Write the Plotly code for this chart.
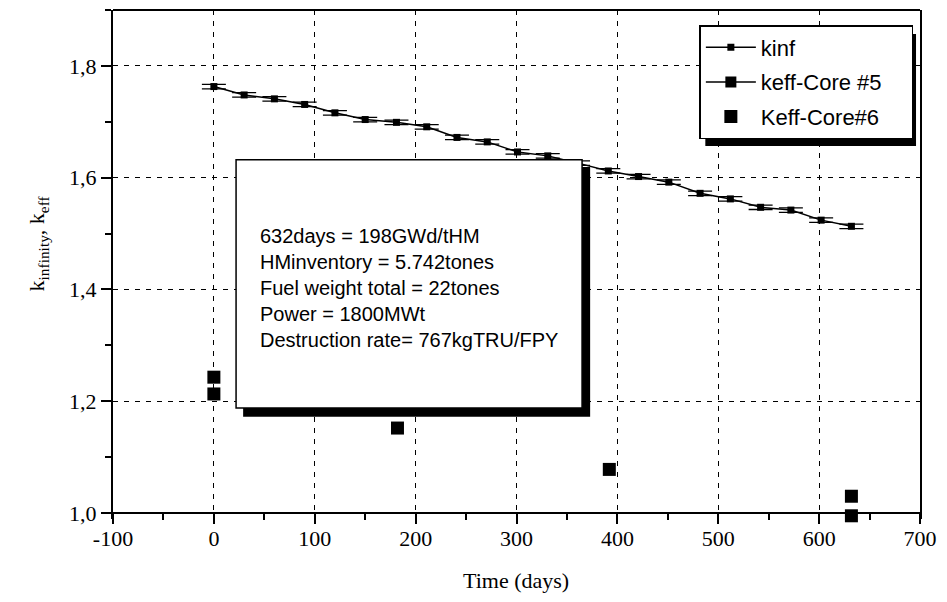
import plotly.graph_objects as go

# Burn-up history of the infinite multiplication factor (days, k-inf)
kinf_days = [0, 30, 60, 90, 120, 150, 181, 211, 241, 271, 301,
             331, 361, 391, 421, 451, 482, 512, 542, 572, 602, 632]
kinf_vals = [1.763, 1.748, 1.741, 1.731, 1.716, 1.704, 1.699, 1.691,
             1.672, 1.664, 1.646, 1.639, 1.626, 1.612, 1.602, 1.592,
             1.572, 1.562, 1.547, 1.542, 1.524, 1.513]
kinf_err = 0.004

# Core #5 effective multiplication factor (no points in this time window)
core5_days = [None]
core5_vals = [None]

# Core #6 effective multiplication factor
core6_days = [0, 0, 182, 392, 632, 632]
core6_vals = [1.243, 1.213, 1.152, 1.078, 1.030, 0.995]

x_ticks = [-100, 0, 100, 200, 300, 400, 500, 600, 700]
x_ticktext = ["-100", "0", "100", "200", "300", "400", "500", "600", "700"]
y_ticks = [1.0, 1.2, 1.4, 1.6, 1.8]

info_lines = [
    "632days = 198GWd/tHM",
    "HMinventory = 5.742tones",
    "Fuel weight total = 22tones",
    "Power = 1800MWt",
    "Destruction rate= 767kgTRU/FPY",
]

SERIF = "Liberation Serif, Times New Roman, serif"
SANS = "Liberation Sans, Arial, sans-serif"

# Figure geometry (pixels)
W, H = 947, 602
L, R, T, B = 113, 22, 10, 83
PW, PH = W - L - R, H - T - B
AXIS_GAP = 6                       # x axis sits this far above the plot-area bottom
Y_TOP = 1.9
Y_PER_PX = (Y_TOP - 1.0) / (PH - AXIS_GAP)
Y_LO = 1.0 - AXIS_GAP * Y_PER_PX


def px_x(px):
    return (px - L) / PW


def px_y(py):
    return (T + PH - py) / PH


fig = go.Figure()

fig.add_trace(go.Scatter(
    x=kinf_days, y=kinf_vals, name="kinf", mode="lines+markers", legendgroup="a",
    line=dict(color="black", width=1.5),
    marker=dict(symbol="square", size=7, color="black"),
    error_y=dict(type="constant", value=kinf_err, color="black",
                 thickness=1.3, width=12),
))
fig.add_trace(go.Scatter(
    x=core5_days, y=core5_vals, name="keff-Core #5\u00a0\u00a0\u00a0\u00a0",
    mode="lines+markers", legendgroup="b",
    line=dict(color="black", width=1.5),
    marker=dict(symbol="square", size=11, color="black"),
))
fig.add_trace(go.Scatter(
    x=core6_days, y=core6_vals, name="Keff-Core#6", mode="markers", legendgroup="c",
    marker=dict(symbol="square", size=13, color="black"),
    cliponaxis=False,
))

# Info box with drop shadow
fig.add_shape(type="rect", xref="x", yref="y", x0=29, x1=373, y0=1.172, y1=1.619,
              fillcolor="black", line=dict(width=0), layer="above")
fig.add_shape(type="rect", xref="x", yref="y", x0=22, x1=365, y0=1.188, y1=1.632,
              fillcolor="white", line=dict(color="black", width=1.5), layer="above")
fig.add_annotation(xref="x", yref="y", x=44, y=1.403, xanchor="left", yanchor="middle",
                   align="left", showarrow=False, text="<br>".join(info_lines),
                   font=dict(family=SANS, size=20, color="black"))

# Legend drop shadow
fig.add_shape(type="rect", xref="paper", yref="paper",
              x0=px_x(709), x1=px_x(921), y0=px_y(146), y1=px_y(34),
              fillcolor="black", line=dict(width=0), layer="above")

# Top border of the frame
fig.add_shape(type="line", xref="paper", yref="paper", x0=0, x1=1, y0=1, y1=1,
              line=dict(color="black", width=2), layer="above")

# Axis titles
fig.add_annotation(xref="paper", yref="paper", x=px_x(518), y=px_y(580), showarrow=False,
                   text="Time (days)", xanchor="center", yanchor="middle",
                   font=dict(family=SERIF, size=22, color="black"))
fig.add_annotation(xref="paper", yref="paper", x=px_x(38), y=px_y(243), showarrow=False,
                   text="k<sub>infinity</sub>, k<sub>eff</sub>", textangle=-90,
                   xanchor="center", yanchor="middle",
                   font=dict(family=SERIF, size=22, color="black"))

axis_common = dict(
    showline=True, linecolor="black", linewidth=2,
    showgrid=True, gridcolor="black", gridwidth=1.2, griddash="5px,6px",
    zeroline=False, ticks="outside", ticklen=10, tickwidth=1.5, tickcolor="black",
    tickfont=dict(family=SERIF, size=22, color="black"),
)

fig.update_xaxes(range=[-100, 700], tickvals=x_ticks, ticktext=x_ticktext,
                 anchor="free", position=AXIS_GAP / PH, ticklabelstandoff=-4,
                 minor=dict(dtick=50, ticks="outside", ticklen=6, tickwidth=1.5,
                            tickcolor="black", showgrid=False),
                 **axis_common)
fig.update_yaxes(range=[Y_LO, Y_TOP], tickvals=y_ticks, tickformat=".1f", mirror=True,
                 minor=dict(tick0=1.0, dtick=0.1, ticks="outside", ticklen=6, tickwidth=1.5,
                            tickcolor="black", showgrid=False),
                 **axis_common)

fig.update_layout(
    width=W, height=H,
    margin=dict(l=L, r=R, t=T, b=B),
    paper_bgcolor="white", plot_bgcolor="white",
    separators=", ",
    showlegend=True,
    legend=dict(x=px_x(703), y=px_y(25), xanchor="left", yanchor="top",
                bgcolor="white", bordercolor="black", borderwidth=1.5,
                font=dict(family=SANS, size=22, color="black"),
                itemwidth=50, tracegroupgap=3, traceorder="grouped"),
)

fig.write_html("out.html")
